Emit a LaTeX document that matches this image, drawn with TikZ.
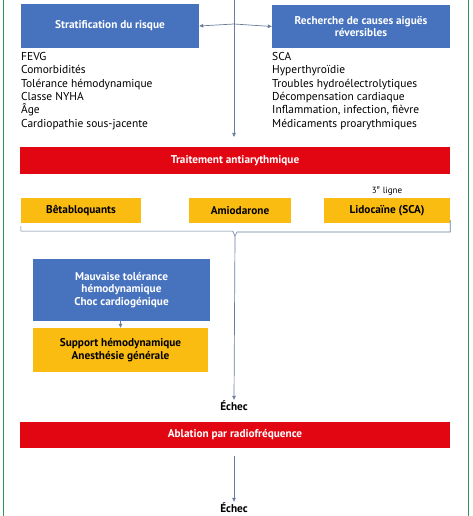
\documentclass[tikz,border=0pt]{standalone}
\usepackage{fontspec}
\setmainfont{PT Sans}
\usetikzlibrary{arrows.meta,positioning}

\definecolor{boxblue}{RGB}{70,114,190}
\definecolor{barred}{RGB}{226,6,19}
\definecolor{boxyellow}{RGB}{251,188,18}
\definecolor{linkgray}{RGB}{105,125,155}
\definecolor{framegreen}{RGB}{40,150,85}

\tikzset{
  bluebox/.style={fill=boxblue,text=white,font=\bfseries\fontsize{11.3}{12.5}\selectfont,
    align=center,inner sep=0pt},
  redbar/.style={fill=barred,text=white,font=\bfseries\fontsize{11.3}{12.5}\selectfont,
    minimum width=430bp,minimum height=27bp,inner sep=0pt},
  yellowbox/.style={fill=boxyellow,text=black,font=\bfseries\fontsize{11.3}{12.5}\selectfont,
    align=center,minimum height=25bp,inner sep=0pt},
  itemlist/.style={anchor=north west,align=left,inner sep=0pt,
    font=\fontsize{11.5}{13.4}\selectfont},
  failtext/.style={font=\bfseries\fontsize{11.3}{12.5}\selectfont,inner sep=1bp},
  link/.style={draw=linkgray,line width=.7pt,-{Triangle[length=4bp,width=3.5bp]}}
}

\begin{document}
\begin{tikzpicture}[x=1bp,y=-1bp]
  \useasboundingbox (0,0) rectangle (473,516);
  \draw[framegreen,line width=1pt] (3,-2) -- (3,518);
  \draw[framegreen,line width=1pt] (468,-2) -- (468,518);

  % first level
  \node[bluebox,minimum width=178bp,minimum height=44bp] (strat) at (110,26) {Stratification du risque};
  \node[bluebox,minimum width=178bp,minimum height=43bp] (causes) at (361,26.5)
    {Recherche de causes aiguës\\réversibles};
  \node[itemlist] (stratlist) at (21,52) {FEVG\\Comorbidités\\Tolérance hémodynamique\\Classe NYHA\\Âge\\Cardiopathie sous-jacente};
  \node[itemlist] (causeslist) at (272,52) {SCA\\Hyperthyroïdie\\Troubles hydroélectrolytiques\\Décompensation cardiaque\\Inflammation, infection, fièvre\\Médicaments proarythmiques};

  \coordinate (top) at (234,-2);
  \coordinate (split) at (234,24);
  \coordinate (down) at (234,137);
  \draw[link,-] (top) -- (split);
  \draw[link] (split) -- (strat.east);
  \draw[link] (split) -- (causes.west);
  \draw[link] (split) -- (down);

  % treatment
  \node[redbar] (trait) at (235,160.5) {Traitement antiarythmique};
  \node[yellowbox,minimum width=120bp] (beta) at (81,210.5) {Bêtabloquants};
  \node[yellowbox,minimum width=102bp] (amio) at (240,210.5) {Amiodarone};
  \node[yellowbox,minimum width=126bp] (lido) at (387,210.5) {Lidocaïne (SCA)};
  \node[font=\fontsize{9}{10}\selectfont,inner sep=0pt,above=2bp of lido] (third) {3\textsuperscript{e} ligne};

  \coordinate (brace) at (235,236);
  \draw[linkgray,line width=.6pt] (beta.south west) ++(0,3) -- ++(0,5) -| (233,232) -- (brace)
    -- (237,232) -| ([yshift=3bp]lido.south east);

  % second level
  \node[bluebox,minimum width=177bp,minimum height=62bp] (mauvaise) at (121.5,290)
    {Mauvaise tolérance\\hémodynamique\\Choc cardiogénique};
  \node[yellowbox,minimum width=175bp,minimum height=44bp] (support) at (120.5,350)
    {Support hémodynamique\\Anesthésie générale};
  \draw[link] (mauvaise.south -| support.north) -- (support.north);

  \node[failtext] (echec) at (234,406) {Échec};
  \draw[link] (brace) -- (echec.north);

  \node[redbar,minimum height=26bp] (ablation) at (235,435) {Ablation par radiofréquence};
  \node[failtext] (echecb) at (234,508) {Échec};
  \draw[link] ([yshift=-8bp]ablation.south -| echecb) -- (echecb.north);
\end{tikzpicture}
\end{document}
